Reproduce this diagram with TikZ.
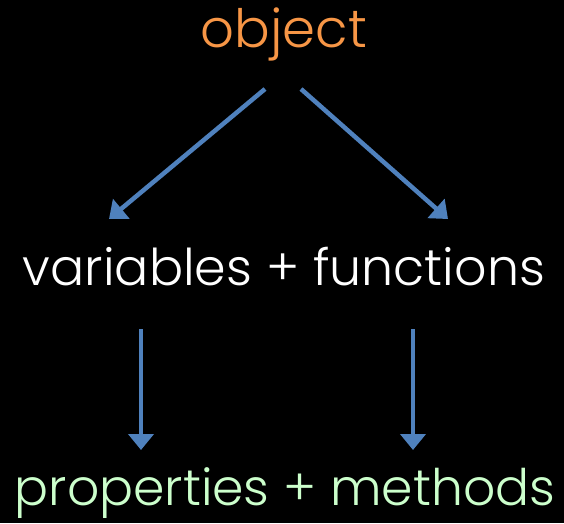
\documentclass[tikz,border=0pt]{standalone}
\usepackage{fontspec}
\setmainfont{Poppins Light}
\usetikzlibrary{arrows.meta,calc}
\definecolor{objorange}{HTML}{F79646}
\definecolor{arrowblue}{HTML}{4F81BD}
\definecolor{lightgreen}{HTML}{CCFFCC}
\tikzset{
  lbl/.style={inner sep=0pt, anchor=base},
  arr/.style={draw=arrowblue, line width=4.5pt, -{Triangle[width=25pt,length=16pt]}}
}
\begin{document}
\begin{tikzpicture}[x=1pt,y=-1pt]
\fill[black] (0,0) rectangle (564,523);
\useasboundingbox (0,0) rectangle (564,523);
\node[lbl, text=objorange] (obj) at (284,47) {\resizebox{166pt}{!}{object}};
\node[lbl, text=white] (vf) at (284,285) {\resizebox{522pt}{!}{variables + functions}};
\node[lbl, text=lightgreen] (pm) at (285,505) {\resizebox{540pt}{!}{properties + methods}};
\draw[arr] ($(obj.base)+(-19,42)$) -- ($(vf.base)+(-175,-66)$);
\draw[arr] ($(obj.base)+(17,42)$) -- ($(vf.base)+(164,-66)$);
\draw[arr] ($(vf.base)+(-143,44)$) -- ($(pm.base)+(-144,-55)$);
\draw[arr] ($(vf.base)+(129,44)$) -- ($(pm.base)+(128,-55)$);
\end{tikzpicture}
\end{document}
